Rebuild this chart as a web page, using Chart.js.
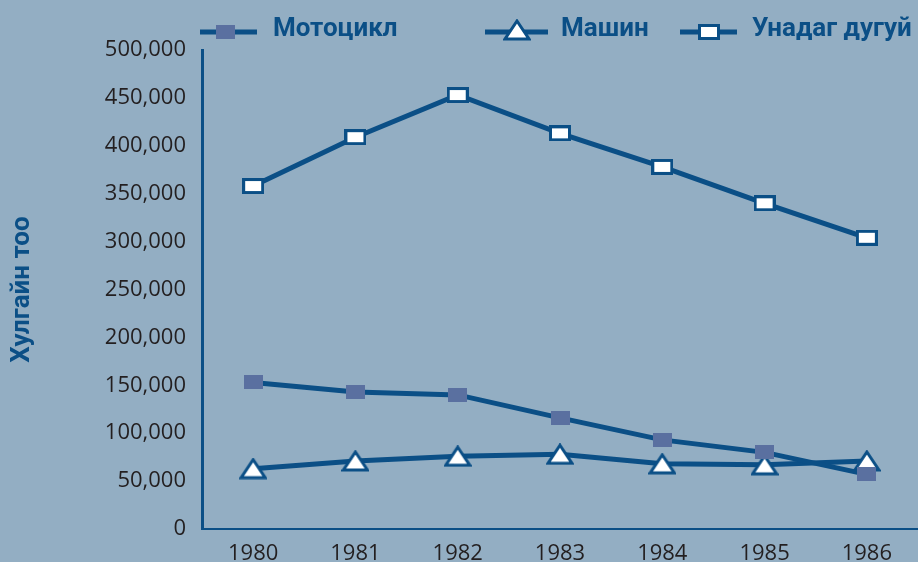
<!DOCTYPE html>
<html>
<head>
<meta charset="utf-8">
<script src="https://cdn.jsdelivr.net/npm/chart.js@4/dist/chart.umd.min.js"></script>
<style>
  html, body { margin: 0; padding: 0; background: #93aec3; overflow: hidden; }
  canvas { display: block; }
</style>
</head>
<body>
<canvas id="chart1" width="918" height="562"></canvas>
<script>
const years = ['1980', '1981', '1982', '1983', '1984', '1985', '1986'];
const motoData = [153000, 143000, 140000, 116000, 93000, 80000, 57000];
const carData = [63000, 71000, 76000, 78000, 68000, 67000, 71000];
const bikeData = [358000, 409000, 453000, 413000, 378000, 340000, 304000];
const seriesNames = ['Мотоцикл', 'Машин', 'Унадаг дугуй'];
const yTitle = 'Хулгайн тоо';

const lineColor = '#0b4f86';
const motoColor = '#5a70a0';

function makeMarker(kind) {
    const c = document.createElement('canvas');
    const ctx = c.getContext('2d');
    if (kind === 'moto') {
        c.width = 19; c.height = 14;
        ctx.fillStyle = motoColor;
        ctx.fillRect(0, 0, 19, 14);
    } else if (kind === 'bike') {
        c.width = 22; c.height = 16;
        ctx.fillStyle = lineColor;
        ctx.fillRect(0, 0, 22, 16);
        ctx.fillStyle = '#ffffff';
        ctx.fillRect(3, 3, 16, 10);
    } else {
        c.width = 28; c.height = 22;
        ctx.beginPath();
        ctx.moveTo(14, 2);
        ctx.lineTo(26, 20);
        ctx.lineTo(2, 20);
        ctx.closePath();
        ctx.fillStyle = '#ffffff';
        ctx.fill();
        ctx.lineWidth = 3;
        ctx.strokeStyle = lineColor;
        ctx.stroke();
    }
    return c;
}

const markers = [makeMarker('moto'), makeMarker('car'), makeMarker('bike')];

// legend drawn on the canvas: short line with marker, then bold label
const legendItems = [
    { x1: 200, x2: 257, text: 273 },
    { x1: 485, x2: 548, text: 561 },
    { x1: 680, x2: 737, text: 752 }
];

const legendPlugin = {
    id: 'customLegend',
    afterDraw(chart) {
        const ctx = chart.ctx;
        ctx.save();
        legendItems.forEach((item, i) => {
            const y = 32;
            ctx.strokeStyle = lineColor;
            ctx.lineWidth = 5;
            ctx.beginPath();
            ctx.moveTo(item.x1, y);
            ctx.lineTo(item.x2, y);
            ctx.stroke();
            const m = markers[i];
            const cx = (item.x1 + item.x2) / 2 - (i === 0 ? 3 : 0);
            ctx.drawImage(m, Math.round(cx - m.width / 2), Math.round(y - m.height / 2 - (i === 1 ? 2 : 0)));
            ctx.fillStyle = lineColor;
            ctx.font = 'bold 26px Roboto';
            ctx.textBaseline = 'middle';
            ctx.textAlign = 'left';
            ctx.fillText(seriesNames[i], item.text, y - 3);
        });
        ctx.restore();
    }
};

function dataset(label, data, marker) {
    return {
        label: label,
        data: data,
        borderColor: lineColor,
        borderWidth: 5,
        pointStyle: marker,
        pointRadius: 10,
        pointHoverRadius: 10,
        fill: false,
        clip: false,
        tension: 0
    };
}

const ctx = document.getElementById('chart1').getContext('2d');
new Chart(ctx, {
    type: 'line',
    data: {
        labels: years,
        datasets: [
            dataset(seriesNames[2], bikeData, markers[2]),
            dataset(seriesNames[0], motoData, markers[0]),
            dataset(seriesNames[1], carData, markers[1])
        ]
    },
    options: {
        responsive: false,
        animation: false,
        layout: { autoPadding: false, padding: { top: 50, right: 0, left: 0, bottom: 0 } },
        scales: {
            x: {
                offset: true,
                grid: { display: false, drawTicks: false },
                border: { color: lineColor, width: 2 },
                ticks: {
                    color: '#231f20',
                    font: { family: 'Open Sans', size: 22 },
                    padding: 12,
                    maxRotation: 0
                },
                afterFit(scale) {
                    scale.height = 33;
                    scale.paddingRight = 0;
                }
            },
            y: {
                min: 0,
                max: 500000,
                grid: { display: false, drawTicks: false },
                border: { color: lineColor, width: 3 },
                ticks: {
                    stepSize: 50000,
                    color: '#231f20',
                    font: { family: 'Open Sans', size: 22 },
                    padding: 16,
                    callback: v => v.toLocaleString('en-US')
                },
                title: {
                    display: true,
                    text: yTitle,
                    color: lineColor,
                    font: { family: 'Roboto', size: 26, weight: 'bold' },
                    padding: { top: 7, bottom: 0 }
                },
                afterFit(scale) { scale.width = 202; }
            }
        },
        plugins: {
            legend: { display: false },
            tooltip: { enabled: false }
        }
    },
    plugins: [legendPlugin]
});
</script>
</body>
</html>
